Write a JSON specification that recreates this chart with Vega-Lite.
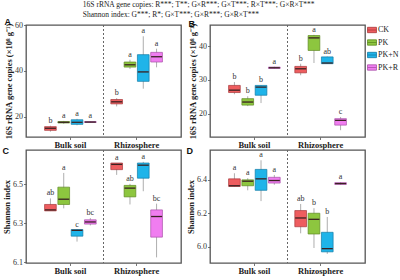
{
  "$schema": "https://vega.github.io/schema/vega-lite/v6.json",
  "padding": {"left": 1, "top": 0, "right": 0, "bottom": 0},
  "background": "white",
  "title": {
    "text": ["16S rRNA gene copies: R***; T**; G×R***; G×T***; R×T***; G×R×T***", "Shannon index: G***; R*; G×T***; G×R***; G×R×T***"],
    "anchor": "start", "dx": 81, "font": "Liberation Serif", "fontSize": 7.5, "fontWeight": "normal", "color": "#222", "offset": -1, "lineHeight": 10
  },
  "data": {"values": [
    {"panel": "A", "loc": "Bulk soil", "trt": "CK", "min": 13.6, "q1": 14.2, "median": 15.1, "q3": 15.8, "max": 16.2, "sig": "b"},
    {"panel": "A", "loc": "Bulk soil", "trt": "PK", "min": 17.0, "q1": 17.4, "median": 17.7, "q3": 18.0, "max": 18.3, "sig": "a"},
    {"panel": "A", "loc": "Bulk soil", "trt": "PK+N", "min": 16.4, "q1": 16.8, "median": 17.7, "q3": 18.8, "max": 19.2, "sig": "a"},
    {"panel": "A", "loc": "Bulk soil", "trt": "PK+R", "min": 17.4, "q1": 17.6, "median": 17.8, "q3": 18.0, "max": 18.2, "sig": "a"},
    {"panel": "A", "loc": "Rhizosphere", "trt": "CK", "min": 24.6, "q1": 25.7, "median": 26.6, "q3": 27.6, "max": 28.2, "sig": "b"},
    {"panel": "A", "loc": "Rhizosphere", "trt": "PK", "min": 40.9, "q1": 41.7, "median": 42.7, "q3": 43.9, "max": 44.9, "sig": "a"},
    {"panel": "A", "loc": "Rhizosphere", "trt": "PK+N", "min": 32.3, "q1": 35.5, "median": 39.6, "q3": 47.1, "max": 55.1, "sig": "a"},
    {"panel": "A", "loc": "Rhizosphere", "trt": "PK+R", "min": 41.6, "q1": 43.9, "median": 46.2, "q3": 48.1, "max": 49.7, "sig": "a"},
    {"panel": "B", "loc": "Bulk soil", "trt": "CK", "min": 25.8, "q1": 26.3, "median": 27.0, "q3": 28.4, "max": 29.4, "sig": "b"},
    {"panel": "B", "loc": "Bulk soil", "trt": "PK", "min": 22.3, "q1": 22.6, "median": 23.5, "q3": 24.5, "max": 25.2, "sig": "b"},
    {"panel": "B", "loc": "Bulk soil", "trt": "PK+N", "min": 23.2, "q1": 25.5, "median": 27.9, "q3": 28.4, "max": 28.5, "sig": "b"},
    {"panel": "B", "loc": "Bulk soil", "trt": "PK+R", "min": 33.3, "q1": 33.4, "median": 33.6, "q3": 33.8, "max": 33.9, "sig": "a"},
    {"panel": "B", "loc": "Rhizosphere", "trt": "CK", "min": 31.4, "q1": 32.1, "median": 33.3, "q3": 34.0, "max": 34.8, "sig": "b"},
    {"panel": "B", "loc": "Rhizosphere", "trt": "PK", "min": 35.0, "q1": 38.7, "median": 42.4, "q3": 43.1, "max": 43.3, "sig": "a"},
    {"panel": "B", "loc": "Rhizosphere", "trt": "PK+N", "min": 34.8, "q1": 34.8, "median": 35.0, "q3": 36.8, "max": 36.9, "sig": "ab"},
    {"panel": "B", "loc": "Rhizosphere", "trt": "PK+R", "min": 15.2, "q1": 16.7, "median": 18.1, "q3": 18.6, "max": 19.1, "sig": "c"},
    {"panel": "C", "loc": "Bulk soil", "trt": "CK", "min": 6.363, "q1": 6.363, "median": 6.368, "q3": 6.396, "max": 6.427, "sig": "ab"},
    {"panel": "C", "loc": "Bulk soil", "trt": "PK", "min": 6.376, "q1": 6.396, "median": 6.423, "q3": 6.485, "max": 6.558, "sig": "a"},
    {"panel": "C", "loc": "Bulk soil", "trt": "PK+N", "min": 6.205, "q1": 6.233, "median": 6.263, "q3": 6.267, "max": 6.267, "sig": "c"},
    {"panel": "C", "loc": "Bulk soil", "trt": "PK+R", "min": 6.288, "q1": 6.295, "median": 6.306, "q3": 6.317, "max": 6.326, "sig": "bc"},
    {"panel": "C", "loc": "Rhizosphere", "trt": "CK", "min": 6.548, "q1": 6.575, "median": 6.602, "q3": 6.609, "max": 6.609, "sig": "a"},
    {"panel": "C", "loc": "Rhizosphere", "trt": "PK", "min": 6.396, "q1": 6.435, "median": 6.48, "q3": 6.494, "max": 6.502, "sig": "ab"},
    {"panel": "C", "loc": "Rhizosphere", "trt": "PK+N", "min": 6.464, "q1": 6.531, "median": 6.598, "q3": 6.609, "max": 6.615, "sig": "a"},
    {"panel": "C", "loc": "Rhizosphere", "trt": "PK+R", "min": 6.124, "q1": 6.228, "median": 6.334, "q3": 6.368, "max": 6.40, "sig": "bc"},
    {"panel": "D", "loc": "Bulk soil", "trt": "CK", "min": 6.359, "q1": 6.359, "median": 6.363, "q3": 6.404, "max": 6.437, "sig": "a"},
    {"panel": "D", "loc": "Bulk soil", "trt": "PK", "min": 6.336, "q1": 6.363, "median": 6.39, "q3": 6.398, "max": 6.408, "sig": "a"},
    {"panel": "D", "loc": "Bulk soil", "trt": "PK+N", "min": 6.272, "q1": 6.336, "median": 6.404, "q3": 6.46, "max": 6.514, "sig": "a"},
    {"panel": "D", "loc": "Bulk soil", "trt": "PK+R", "min": 6.369, "q1": 6.379, "median": 6.394, "q3": 6.413, "max": 6.427, "sig": "a"},
    {"panel": "D", "loc": "Rhizosphere", "trt": "CK", "min": 6.081, "q1": 6.12, "median": 6.172, "q3": 6.216, "max": 6.255, "sig": "ab"},
    {"panel": "D", "loc": "Rhizosphere", "trt": "PK", "min": 5.994, "q1": 6.077, "median": 6.164, "q3": 6.2, "max": 6.23, "sig": "b"},
    {"panel": "D", "loc": "Rhizosphere", "trt": "PK+N", "min": 5.959, "q1": 5.971, "median": 5.99, "q3": 6.087, "max": 6.178, "sig": "b"},
    {"panel": "D", "loc": "Rhizosphere", "trt": "PK+R", "min": 6.368, "q1": 6.371, "median": 6.376, "q3": 6.381, "max": 6.385, "sig": "a"}
  ]},
  "columns": 2,
  "spacing": {"row": -8, "column": 3},
  "resolve": {"scale": {"x": "independent", "y": "independent", "xOffset": "independent"}},
  "concat": [
    {
      "title": {"text": "A"},
      "width": 155, "height": 112,
      "transform": [{"filter": "datum.panel == 'A'"}],
      "encoding": {
        "x": {"field": "loc", "type": "nominal", "scale": {"domain": ["Bulk soil", "Rhizosphere"], "paddingInner": 0, "paddingOuter": 0.17}, "axis": {"title": null}},
        "xOffset": {"field": "trt", "type": "nominal", "scale": {"domain": ["CK", "PK", "PK+N", "PK+R"], "paddingInner": 0.12, "paddingOuter": 0.55}}
      },
      "layer": [
        {"mark": {"type": "rule", "color": "#666", "strokeDash": [2, 2], "strokeWidth": 0.8}, "encoding": {"x": {"datum": "Rhizosphere", "bandPosition": 0}, "xOffset": null}},
        {"mark": {"type": "rule", "color": "#999", "strokeWidth": 0.8}, "encoding": {"y": {"field": "min", "type": "quantitative", "scale": {"domain": [11.3, 60], "nice": false, "zero": false}, "axis": {"values": [20, 30, 40, 50, 60], "title": "16S rRNA gene copies (×10⁸ g⁻¹)"}}, "y2": {"field": "max"}}},
        {"mark": {"type": "bar", "strokeWidth": 0.7}, "encoding": {"y": {"field": "q1", "type": "quantitative"}, "y2": {"field": "q3"}, "fill": {"field": "trt", "type": "nominal", "scale": {"domain": ["CK", "PK", "PK+N", "PK+R"], "range": ["#EE5D5F", "#8DC63F", "#1FB4E9", "#F07DF0"]}}, "stroke": {"field": "trt", "type": "nominal", "scale": {"domain": ["CK", "PK", "PK+N", "PK+R"], "range": ["#A83A3C", "#5E8A22", "#137BA6", "#A850A8"]}}}},
        {"mark": {"type": "tick", "color": "#3a2222", "thickness": 1.3, "size": 11, "opacity": 1}, "encoding": {"y": {"field": "median", "type": "quantitative"}}},
        {"mark": {"type": "text", "baseline": "bottom", "dy": -1, "font": "Liberation Serif", "fontSize": 8, "fill": "#333"}, "encoding": {"y": {"field": "max", "type": "quantitative"}, "text": {"field": "sig"}}}
      ]
    },
    {
      "title": {"text": "B"},
      "width": 155, "height": 112,
      "transform": [{"filter": "datum.panel == 'B'"}],
      "encoding": {
        "x": {"field": "loc", "type": "nominal", "scale": {"domain": ["Bulk soil", "Rhizosphere"], "paddingInner": 0, "paddingOuter": 0.17}, "axis": {"title": null}},
        "xOffset": {"field": "trt", "type": "nominal", "scale": {"domain": ["CK", "PK", "PK+N", "PK+R"], "paddingInner": 0.12, "paddingOuter": 0.55}}
      },
      "layer": [
        {"mark": {"type": "rule", "color": "#666", "strokeDash": [2, 2], "strokeWidth": 0.8}, "encoding": {"x": {"datum": "Rhizosphere", "bandPosition": 0}, "xOffset": null}},
        {"mark": {"type": "rule", "color": "#999", "strokeWidth": 0.8}, "encoding": {"y": {"field": "min", "type": "quantitative", "scale": {"domain": [13.2, 46.2], "nice": false, "zero": false}, "axis": {"values": [20, 30, 40], "title": "16S rRNA gene copies (×10⁸ g⁻¹)"}}, "y2": {"field": "max"}}},
        {"mark": {"type": "bar", "strokeWidth": 0.7}, "encoding": {"y": {"field": "q1", "type": "quantitative"}, "y2": {"field": "q3"}, "fill": {"field": "trt", "type": "nominal", "scale": {"domain": ["CK", "PK", "PK+N", "PK+R"], "range": ["#EE5D5F", "#8DC63F", "#1FB4E9", "#F07DF0"]}}, "stroke": {"field": "trt", "type": "nominal", "scale": {"domain": ["CK", "PK", "PK+N", "PK+R"], "range": ["#A83A3C", "#5E8A22", "#137BA6", "#A850A8"]}}}},
        {"mark": {"type": "tick", "color": "#3a2222", "thickness": 1.3, "size": 11, "opacity": 1}, "encoding": {"y": {"field": "median", "type": "quantitative"}}},
        {"mark": {"type": "text", "baseline": "bottom", "dy": -1, "font": "Liberation Serif", "fontSize": 8, "fill": "#333"}, "encoding": {"y": {"field": "max", "type": "quantitative"}, "text": {"field": "sig"}}}
      ]
    },
    {
      "title": {"text": "C"},
      "width": 155, "height": 113,
      "transform": [{"filter": "datum.panel == 'C'"}],
      "encoding": {
        "x": {"field": "loc", "type": "nominal", "scale": {"domain": ["Bulk soil", "Rhizosphere"], "paddingInner": 0, "paddingOuter": 0.17}, "axis": {"title": null}},
        "xOffset": {"field": "trt", "type": "nominal", "scale": {"domain": ["CK", "PK", "PK+N", "PK+R"], "paddingInner": 0.12, "paddingOuter": 0.55}}
      },
      "layer": [
        {"mark": {"type": "rule", "color": "#666", "strokeDash": [2, 2], "strokeWidth": 0.8}, "encoding": {"x": {"datum": "Rhizosphere", "bandPosition": 0}, "xOffset": null}},
        {"mark": {"type": "rule", "color": "#999", "strokeWidth": 0.8}, "encoding": {"y": {"field": "min", "type": "quantitative", "scale": {"domain": [6.095, 6.676], "nice": false, "zero": false}, "axis": {"values": [6.1, 6.2, 6.3, 6.4, 6.5, 6.6], "format": ".1f", "title": "Shannon index"}}, "y2": {"field": "max"}}},
        {"mark": {"type": "bar", "strokeWidth": 0.7}, "encoding": {"y": {"field": "q1", "type": "quantitative"}, "y2": {"field": "q3"}, "fill": {"field": "trt", "type": "nominal", "scale": {"domain": ["CK", "PK", "PK+N", "PK+R"], "range": ["#EE5D5F", "#8DC63F", "#1FB4E9", "#F07DF0"]}}, "stroke": {"field": "trt", "type": "nominal", "scale": {"domain": ["CK", "PK", "PK+N", "PK+R"], "range": ["#A83A3C", "#5E8A22", "#137BA6", "#A850A8"]}}}},
        {"mark": {"type": "tick", "color": "#3a2222", "thickness": 1.3, "size": 11, "opacity": 1}, "encoding": {"y": {"field": "median", "type": "quantitative"}}},
        {"mark": {"type": "text", "baseline": "bottom", "dy": -1, "font": "Liberation Serif", "fontSize": 8, "fill": "#333"}, "encoding": {"y": {"field": "max", "type": "quantitative"}, "text": {"field": "sig"}}}
      ]
    },
    {
      "title": {"text": "D"},
      "width": 155, "height": 113,
      "transform": [{"filter": "datum.panel == 'D'"}],
      "encoding": {
        "x": {"field": "loc", "type": "nominal", "scale": {"domain": ["Bulk soil", "Rhizosphere"], "paddingInner": 0, "paddingOuter": 0.17}, "axis": {"title": null}},
        "xOffset": {"field": "trt", "type": "nominal", "scale": {"domain": ["CK", "PK", "PK+N", "PK+R"], "paddingInner": 0.12, "paddingOuter": 0.55}}
      },
      "layer": [
        {"mark": {"type": "rule", "color": "#666", "strokeDash": [2, 2], "strokeWidth": 0.8}, "encoding": {"x": {"datum": "Rhizosphere", "bandPosition": 0}, "xOffset": null}},
        {"mark": {"type": "rule", "color": "#999", "strokeWidth": 0.8}, "encoding": {"y": {"field": "min", "type": "quantitative", "scale": {"domain": [5.905, 6.575], "nice": false, "zero": false}, "axis": {"values": [6.0, 6.2, 6.4], "format": ".1f", "title": "Shannon index"}}, "y2": {"field": "max"}}},
        {"mark": {"type": "bar", "strokeWidth": 0.7}, "encoding": {"y": {"field": "q1", "type": "quantitative"}, "y2": {"field": "q3"}, "fill": {"field": "trt", "type": "nominal", "scale": {"domain": ["CK", "PK", "PK+N", "PK+R"], "range": ["#EE5D5F", "#8DC63F", "#1FB4E9", "#F07DF0"]}}, "stroke": {"field": "trt", "type": "nominal", "scale": {"domain": ["CK", "PK", "PK+N", "PK+R"], "range": ["#A83A3C", "#5E8A22", "#137BA6", "#A850A8"]}}}},
        {"mark": {"type": "tick", "color": "#3a2222", "thickness": 1.3, "size": 11, "opacity": 1}, "encoding": {"y": {"field": "median", "type": "quantitative"}}},
        {"mark": {"type": "text", "baseline": "bottom", "dy": -1, "font": "Liberation Serif", "fontSize": 8, "fill": "#333"}, "encoding": {"y": {"field": "max", "type": "quantitative"}, "text": {"field": "sig"}}}
      ]
    }
  ],
  "config": {
    "view": {"stroke": "#555", "strokeWidth": 1.3},
    "title": {"anchor": "start", "frame": "bounds", "font": "Liberation Sans", "fontSize": 9, "fontWeight": "bold", "color": "#111", "offset": -6},
    "axis": {
      "domain": false, "grid": false, "tickSize": 2.5, "tickColor": "#555", "tickWidth": 0.8,
      "labelFont": "Liberation Serif", "labelFontSize": 8, "labelColor": "#333", "labelPadding": 1,
      "titleFont": "Liberation Serif", "titleFontSize": 8.5, "titleFontWeight": "bold", "titleColor": "#222", "titlePadding": 1
    },
    "axisX": {"labelAngle": 0, "labelFontWeight": "bold", "labelFontSize": 8.5, "labelColor": "#222"},
    "legend": {
      "title": null, "orient": "right", "offset": 1, "padding": 0,
      "symbolType": "M-1,-0.6H1V0.6H-1ZM-1,0H1", "symbolSize": 80, "symbolStrokeWidth": 0.8, "symbolOpacity": 1,
      "labelFont": "Liberation Serif", "labelFontSize": 8, "labelColor": "#222", "rowPadding": 2.5, "labelOffset": 1
    }
  }
}
